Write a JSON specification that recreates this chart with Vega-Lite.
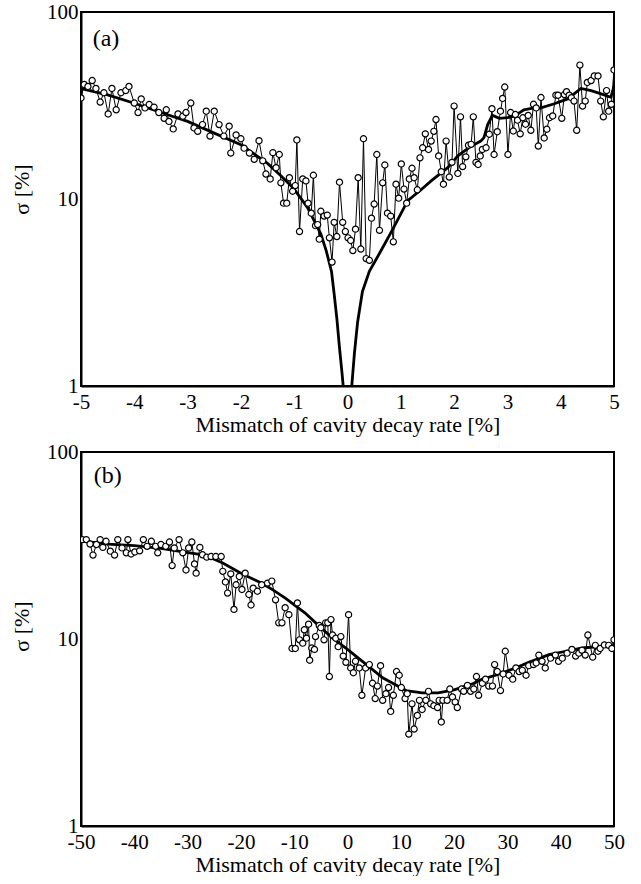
{
  "$schema": "https://vega.github.io/schema/vega-lite/v6.json",
  "background": "white",
  "padding": {"left": 9, "top": 0, "right": 10, "bottom": 0},
  "spacing": 4,
  "config": {
    "view": {"stroke": "black", "strokeWidth": 2},
    "font": "Liberation Serif",
    "axis": {
      "grid": false, "ticks": false, "domainColor": "black", "domainWidth": 2,
      "labelColor": "black", "titleColor": "black",
      "labelFont": "Liberation Serif", "titleFont": "Liberation Serif",
      "labelFontSize": 21, "titleFontSize": 22, "titleFontWeight": "normal",
      "labelOverlap": false, "labelFlush": false
    }
  },
  "datasets": {
    "a_pts": [
      {"x":-5.00,"s":34.7},{"x":-4.94,"s":41},{"x":-4.87,"s":40},{"x":-4.79,"s":43},{"x":-4.72,"s":39},{"x":-4.64,"s":33},{"x":-4.57,"s":37},{"x":-4.49,"s":28.5},{"x":-4.42,"s":39},{"x":-4.34,"s":30},{"x":-4.25,"s":37},{"x":-4.16,"s":38},{"x":-4.10,"s":40},{"x":-4.00,"s":32.6},{"x":-3.93,"s":29},{"x":-3.87,"s":34.3},{"x":-3.80,"s":30.7},{"x":-3.72,"s":32},{"x":-3.63,"s":31},{"x":-3.54,"s":29},{"x":-3.44,"s":27},{"x":-3.40,"s":30},{"x":-3.35,"s":26},{"x":-3.27,"s":23.7},{"x":-3.18,"s":28.5},{"x":-3.09,"s":27.7},{"x":-3.03,"s":29},{"x":-2.94,"s":32.6},{"x":-2.88,"s":24},{"x":-2.81,"s":23},{"x":-2.72,"s":25},{"x":-2.65,"s":29.5},{"x":-2.58,"s":21.7},{"x":-2.50,"s":29.5},{"x":-2.41,"s":25},{"x":-2.32,"s":21.7},{"x":-2.22,"s":24.5},{"x":-2.19,"s":17.6},{"x":-2.09,"s":22},{"x":-2.00,"s":21},{"x":-1.94,"s":18.7},{"x":-1.84,"s":17.6},{"x":-1.75,"s":16.3},{"x":-1.66,"s":20.5},{"x":-1.59,"s":16},{"x":-1.53,"s":13.6},{"x":-1.45,"s":12.8},{"x":-1.40,"s":17.7},{"x":-1.34,"s":14.7},{"x":-1.28,"s":17.3},{"x":-1.25,"s":12.2},{"x":-1.20,"s":9.5},{"x":-1.14,"s":9.5},{"x":-1.09,"s":13},{"x":-1.03,"s":11},{"x":-0.98,"s":11.8},{"x":-0.95,"s":20.7},{"x":-0.90,"s":6.7},{"x":-0.84,"s":12.8},{"x":-0.78,"s":12.5},{"x":-0.74,"s":9.5},{"x":-0.68,"s":8.4},{"x":-0.64,"s":13.4},{"x":-0.60,"s":7.2},{"x":-0.56,"s":7.3},{"x":-0.53,"s":6.1},{"x":-0.50,"s":8.6},{"x":-0.44,"s":8.1},{"x":-0.38,"s":8.2},{"x":-0.34,"s":6.2},{"x":-0.29,"s":4.6},{"x":-0.25,"s":7.5},{"x":-0.20,"s":6.3},{"x":-0.15,"s":12.3},{"x":-0.09,"s":7.5},{"x":-0.04,"s":6.7},{"x":0.01,"s":6.2},{"x":0.06,"s":6.0},{"x":0.10,"s":5.3},{"x":0.15,"s":6.9},{"x":0.20,"s":13},{"x":0.25,"s":5.4},{"x":0.30,"s":21},{"x":0.35,"s":4.8},{"x":0.41,"s":4.7},{"x":0.45,"s":7.9},{"x":0.50,"s":9.4},{"x":0.55,"s":17.3},{"x":0.60,"s":6.8},{"x":0.66,"s":12.2},{"x":0.70,"s":15.2},{"x":0.75,"s":8.4},{"x":0.81,"s":8.1},{"x":0.86,"s":5.9},{"x":0.91,"s":12},{"x":0.96,"s":10.1},{"x":1.01,"s":15.4},{"x":1.06,"s":11.3},{"x":1.11,"s":9.5},{"x":1.16,"s":12.8},{"x":1.21,"s":14.6},{"x":1.25,"s":13},{"x":1.31,"s":11.2},{"x":1.36,"s":16.6},{"x":1.41,"s":18.8},{"x":1.46,"s":22.3},{"x":1.52,"s":18.4},{"x":1.57,"s":20.4},{"x":1.62,"s":23},{"x":1.66,"s":26.6},{"x":1.71,"s":17},{"x":1.76,"s":14},{"x":1.80,"s":12},{"x":1.85,"s":20.4},{"x":1.91,"s":13.1},{"x":1.96,"s":15.7},{"x":2.00,"s":31.4},{"x":2.07,"s":13.7},{"x":2.12,"s":27.5},{"x":2.16,"s":14.9},{"x":2.22,"s":16.8},{"x":2.27,"s":19.4},{"x":2.32,"s":19.6},{"x":2.36,"s":27.5},{"x":2.41,"s":15.7},{"x":2.45,"s":15.3},{"x":2.49,"s":17},{"x":2.53,"s":18.4},{"x":2.60,"s":18.8},{"x":2.66,"s":22.2},{"x":2.71,"s":30.4},{"x":2.75,"s":17.3},{"x":2.81,"s":22.9},{"x":2.87,"s":29.5},{"x":2.91,"s":34.5},{"x":2.95,"s":39.7},{"x":3.01,"s":17.3},{"x":3.06,"s":29},{"x":3.11,"s":23.1},{"x":3.15,"s":28.3},{"x":3.19,"s":26.4},{"x":3.24,"s":22.3},{"x":3.29,"s":27.2},{"x":3.34,"s":25.1},{"x":3.39,"s":28},{"x":3.44,"s":23.3},{"x":3.49,"s":32.1},{"x":3.54,"s":30.7},{"x":3.58,"s":19.2},{"x":3.63,"s":34.9},{"x":3.69,"s":21.2},{"x":3.74,"s":23.6},{"x":3.79,"s":27.2},{"x":3.85,"s":27.8},{"x":3.91,"s":35.9},{"x":3.95,"s":35.9},{"x":4.02,"s":27.0},{"x":4.07,"s":36.2},{"x":4.11,"s":37.5},{"x":4.16,"s":35.9},{"x":4.20,"s":34.8},{"x":4.25,"s":33.4},{"x":4.30,"s":23.3},{"x":4.36,"s":52},{"x":4.41,"s":31.4},{"x":4.46,"s":33.4},{"x":4.50,"s":42},{"x":4.57,"s":43},{"x":4.63,"s":45.5},{"x":4.70,"s":45.5},{"x":4.75,"s":33.4},{"x":4.80,"s":27.5},{"x":4.86,"s":38},{"x":4.90,"s":29.5},{"x":4.95,"s":32.1},{"x":5.00,"s":49}
    ],
    "a_fit": [
      {"b":"L","x":-5,"s":39},{"b":"L","x":-4.5,"s":36},{"b":"L","x":-4,"s":32.5},{"b":"L","x":-3.5,"s":29},{"b":"L","x":-3,"s":26},{"b":"L","x":-2.5,"s":22.5},{"b":"L","x":-2,"s":19.5},{"b":"L","x":-1.5,"s":15.5},{"b":"L","x":-1.25,"s":13.3},{"b":"L","x":-1,"s":11.3},{"b":"L","x":-0.75,"s":9},{"b":"L","x":-0.5,"s":6.5},{"b":"L","x":-0.4,"s":5.3},{"b":"L","x":-0.3,"s":4.1},{"b":"L","x":-0.25,"s":3.1},{"b":"L","x":-0.2,"s":2.3},{"b":"L","x":-0.15,"s":1.6},{"b":"L","x":-0.1,"s":1.15},{"b":"L","x":-0.05,"s":0.8},
      {"b":"R","x":0.05,"s":0.8},{"b":"R","x":0.08,"s":1.0},{"b":"R","x":0.13,"s":1.5},{"b":"R","x":0.19,"s":2.2},{"b":"R","x":0.28,"s":3.2},{"b":"R","x":0.41,"s":4.1},{"b":"R","x":0.63,"s":5.3},{"b":"R","x":0.85,"s":6.9},{"b":"R","x":1.13,"s":9.8},{"b":"R","x":1.38,"s":11.2},{"b":"R","x":1.57,"s":12.5},{"b":"R","x":1.88,"s":14.7},{"b":"R","x":2.07,"s":17.0},{"b":"R","x":2.3,"s":19},{"b":"R","x":2.5,"s":20.4},{"b":"R","x":2.56,"s":21.3},{"b":"R","x":2.63,"s":25},{"b":"R","x":2.72,"s":28},{"b":"R","x":2.85,"s":27},{"b":"R","x":3.0,"s":27.2},{"b":"R","x":3.13,"s":27.7},{"b":"R","x":3.31,"s":30},{"b":"R","x":3.45,"s":30.5},{"b":"R","x":3.63,"s":30.7},{"b":"R","x":3.88,"s":32.3},{"b":"R","x":4.13,"s":34.3},{"b":"R","x":4.38,"s":39},{"b":"R","x":4.57,"s":38},{"b":"R","x":4.76,"s":36.5},{"b":"R","x":4.94,"s":35},{"b":"R","x":5.0,"s":40}
    ],
    "b_pts": [
      {"x":-49.75,"s":34.0},{"x":-49.0,"s":34},{"x":-48.3,"s":32.2},{"x":-47.75,"s":28.1},{"x":-47.1,"s":32},{"x":-46.4,"s":34},{"x":-45.9,"s":30.9},{"x":-45.3,"s":33.3},{"x":-44.5,"s":29.5},{"x":-43.7,"s":28.1},{"x":-43.1,"s":34},{"x":-42.3,"s":30.7},{"x":-41.5,"s":28.9},{"x":-41.2,"s":34},{"x":-40.6,"s":28.5},{"x":-39.9,"s":29.2},{"x":-39.0,"s":29.6},{"x":-38.3,"s":34},{"x":-37.6,"s":31.3},{"x":-36.8,"s":33.3},{"x":-36.0,"s":31.3},{"x":-35.6,"s":28.9},{"x":-35.0,"s":32},{"x":-34.1,"s":31.3},{"x":-33.4,"s":33},{"x":-32.9,"s":24.7},{"x":-32.5,"s":30.7},{"x":-31.6,"s":34},{"x":-30.9,"s":28.9},{"x":-30.3,"s":23.4},{"x":-29.8,"s":30.7},{"x":-29.2,"s":33},{"x":-28.7,"s":25.2},{"x":-28.4,"s":22.5},{"x":-27.7,"s":30.9},{"x":-27.2,"s":28.2},{"x":-26.4,"s":27.4},{"x":-25.6,"s":27.6},{"x":-24.7,"s":27.6},{"x":-23.7,"s":27.6},{"x":-23.4,"s":23},{"x":-22.9,"s":20.2},{"x":-22.5,"s":17.6},{"x":-21.9,"s":22.3},{"x":-21.3,"s":14.4},{"x":-20.9,"s":19.5},{"x":-20.3,"s":21.6},{"x":-19.8,"s":18.4},{"x":-19.2,"s":22.5},{"x":-18.5,"s":17.3},{"x":-18.1,"s":15.2},{"x":-17.7,"s":18.7},{"x":-16.9,"s":18},{"x":-16.1,"s":19.5},{"x":-15.0,"s":19.9},{"x":-14.2,"s":20.4},{"x":-13.5,"s":16.2},{"x":-12.9,"s":12.2},{"x":-12.3,"s":12.2},{"x":-11.7,"s":14.7},{"x":-11.0,"s":13.5},{"x":-10.4,"s":8.9},{"x":-9.8,"s":8.9},{"x":-9.4,"s":15.6},{"x":-9.0,"s":9.9},{"x":-8.4,"s":9.5},{"x":-8.1,"s":11.2},{"x":-7.7,"s":10.1},{"x":-7.3,"s":12},{"x":-7.1,"s":7.7},{"x":-6.7,"s":8.95},{"x":-6.2,"s":8.8},{"x":-6.0,"s":10.3},{"x":-5.3,"s":11.8},{"x":-5.0,"s":11.5},{"x":-4.4,"s":9.9},{"x":-4.1,"s":12.2},{"x":-3.7,"s":12.2},{"x":-3.4,"s":6.3},{"x":-3.1,"s":12.7},{"x":-2.8,"s":10.5},{"x":-2.2,"s":10.1},{"x":-1.75,"s":9.1},{"x":-1.25,"s":10.3},{"x":-0.8,"s":8.1},{"x":-0.3,"s":7.5},{"x":0.2,"s":13.5},{"x":0.6,"s":7.0},{"x":1.1,"s":6.6},{"x":1.5,"s":7.6},{"x":2.2,"s":7.0},{"x":2.7,"s":5.0},{"x":3.4,"s":7.0},{"x":4.1,"s":7.3},{"x":4.7,"s":5.8},{"x":5.2,"s":4.8},{"x":5.6,"s":5.6},{"x":6.2,"s":7.2},{"x":6.6,"s":4.7},{"x":7.2,"s":5.1},{"x":7.7,"s":5.5},{"x":8.1,"s":4.1},{"x":8.6,"s":5.0},{"x":9.2,"s":6.7},{"x":9.7,"s":6.4},{"x":10.1,"s":5.5},{"x":10.8,"s":4.8},{"x":11.2,"s":5.1},{"x":11.5,"s":3.1},{"x":12.1,"s":4.5},{"x":12.5,"s":3.3},{"x":13.1,"s":3.9},{"x":13.5,"s":4.7},{"x":14.0,"s":4.2},{"x":14.7,"s":4.7},{"x":15.2,"s":5.25},{"x":15.6,"s":4.5},{"x":16.2,"s":4.4},{"x":16.9,"s":4.3},{"x":17.2,"s":4.7},{"x":17.6,"s":3.6},{"x":17.9,"s":4.7},{"x":18.7,"s":4.7},{"x":19.2,"s":5.4},{"x":19.7,"s":4.9},{"x":20.2,"s":4.6},{"x":20.6,"s":4.3},{"x":21.4,"s":5.4},{"x":21.8,"s":5.25},{"x":22.5,"s":5.65},{"x":23.1,"s":5.25},{"x":23.7,"s":5.4},{"x":24.2,"s":6.3},{"x":24.6,"s":5.0},{"x":25.3,"s":5.8},{"x":25.9,"s":6.1},{"x":26.5,"s":5.6},{"x":27.2,"s":5.6},{"x":27.6,"s":7.3},{"x":28.1,"s":6.7},{"x":28.7,"s":5.3},{"x":29.2,"s":6.5},{"x":29.6,"s":8.6},{"x":30.3,"s":6.4},{"x":31.0,"s":6.1},{"x":31.6,"s":7.0},{"x":32.2,"s":6.7},{"x":32.8,"s":6.8},{"x":33.5,"s":6.4},{"x":34.0,"s":7.2},{"x":34.9,"s":7.3},{"x":35.4,"s":7.45},{"x":35.9,"s":8.2},{"x":36.5,"s":7.6},{"x":37.1,"s":7.0},{"x":38.1,"s":7.9},{"x":39.0,"s":8.2},{"x":39.6,"s":7.6},{"x":40.3,"s":7.9},{"x":41.2,"s":8.4},{"x":42.1,"s":8.8},{"x":42.8,"s":8.1},{"x":43.4,"s":8.4},{"x":44.0,"s":8.7},{"x":44.6,"s":8.2},{"x":45.1,"s":10.5},{"x":46.0,"s":8.0},{"x":46.5,"s":9.25},{"x":47.0,"s":8.6},{"x":47.4,"s":8.9},{"x":48.2,"s":9.3},{"x":49.0,"s":9.25},{"x":49.6,"s":8.9},{"x":50.0,"s":9.9}
    ],
    "b_fit": [
      {"x":-50,"s":33.5},{"x":-45,"s":32.2},{"x":-40,"s":31.6},{"x":-35,"s":30.5},{"x":-30,"s":29},{"x":-27,"s":28.2},{"x":-23.4,"s":25.5},{"x":-20,"s":22.5},{"x":-16,"s":19.8},{"x":-14,"s":18.3},{"x":-11.6,"s":16.5},{"x":-8,"s":13.8},{"x":-5,"s":11.5},{"x":-2.8,"s":10.1},{"x":0,"s":8.8},{"x":2.8,"s":7.6},{"x":6.6,"s":6.2},{"x":9,"s":5.7},{"x":11,"s":5.3},{"x":14,"s":5.15},{"x":17,"s":5.15},{"x":20,"s":5.35},{"x":23.4,"s":5.75},{"x":25.3,"s":6.1},{"x":27.8,"s":6.4},{"x":31.5,"s":7.0},{"x":34,"s":7.5},{"x":37.8,"s":8.25},{"x":41,"s":8.6},{"x":44,"s":8.95},{"x":47,"s":9.1},{"x":50,"s":9.3}
    ],
    "a_xmaj": [{"x":-4},{"x":-3},{"x":-2},{"x":-1},{"x":0},{"x":1},{"x":2},{"x":3},{"x":4}],
    "a_xmin": [{"x":-4.8},{"x":-4.6},{"x":-4.4},{"x":-4.2},{"x":-3.8},{"x":-3.6},{"x":-3.4},{"x":-3.2},{"x":-2.8},{"x":-2.6},{"x":-2.4},{"x":-2.2},{"x":-1.8},{"x":-1.6},{"x":-1.4},{"x":-1.2},{"x":-0.8},{"x":-0.6},{"x":-0.4},{"x":-0.2},{"x":0.2},{"x":0.4},{"x":0.6},{"x":0.8},{"x":1.2},{"x":1.4},{"x":1.6},{"x":1.8},{"x":2.2},{"x":2.4},{"x":2.6},{"x":2.8},{"x":3.2},{"x":3.4},{"x":3.6},{"x":3.8},{"x":4.2},{"x":4.4},{"x":4.6},{"x":4.8}],
    "b_xmaj": [{"x":-40},{"x":-30},{"x":-20},{"x":-10},{"x":0},{"x":10},{"x":20},{"x":30},{"x":40}],
    "b_xmin": [{"x":-48},{"x":-46},{"x":-44},{"x":-42},{"x":-38},{"x":-36},{"x":-34},{"x":-32},{"x":-28},{"x":-26},{"x":-24},{"x":-22},{"x":-18},{"x":-16},{"x":-14},{"x":-12},{"x":-8},{"x":-6},{"x":-4},{"x":-2},{"x":2},{"x":4},{"x":6},{"x":8},{"x":12},{"x":14},{"x":16},{"x":18},{"x":22},{"x":24},{"x":26},{"x":28},{"x":32},{"x":34},{"x":36},{"x":38},{"x":42},{"x":44},{"x":46},{"x":48}],
    "ymaj": [{"s":10}],
    "ymin": [{"s":2},{"s":3},{"s":4},{"s":5},{"s":6},{"s":7},{"s":8},{"s":9},{"s":20},{"s":30},{"s":40},{"s":50},{"s":60},{"s":70},{"s":80},{"s":90}],
    "a_lab": [{"x":-4.78,"s":72,"t":"(a)"}],
    "b_lab": [{"x":-47.6,"s":74,"t":"(b)"}]
  },
  "vconcat": [
    {
      "width": 533, "height": 374,
      "encoding": {
        "x": {"field": "x", "type": "quantitative",
          "scale": {"domain": [-5, 5], "nice": false, "zero": false},
          "axis": {"title": "Mismatch of cavity decay rate [%]", "values": [-5,-4,-3,-2,-1,0,1,2,3,4,5],
            "labelExpr": "toString(datum.value)", "labelPadding": 5, "titlePadding": 2}
        },
        "y": {"field": "s", "type": "quantitative",
          "scale": {"type": "log", "domain": [1, 100], "nice": false},
          "axis": {"title": "σ [%]", "values": [1, 10, 100], "labelExpr": "toString(datum.value)",
            "labelPadding": 3, "titlePadding": 13, "titleY": 177}
        }
      },
      "layer": [
        {"data": {"name": "a_xmaj"}, "mark": {"type": "rule", "color": "black", "strokeWidth": 1.5}, "encoding": {"y": {"datum": 1}, "y2": {"datum": 1.09}}},
        {"data": {"name": "a_xmin"}, "mark": {"type": "rule", "color": "black", "strokeWidth": 1.5}, "encoding": {"y": {"datum": 1}, "y2": {"datum": 1.05}}},
        {"data": {"name": "ymaj"}, "mark": {"type": "rule", "color": "black", "strokeWidth": 1.5}, "encoding": {"x": {"datum": -5}, "x2": {"datum": -4.869}}},
        {"data": {"name": "ymin"}, "mark": {"type": "rule", "color": "black", "strokeWidth": 1.5}, "encoding": {"x": {"datum": -5}, "x2": {"datum": -4.925}}},
        {"data": {"name": "a_pts"}, "mark": {"type": "line", "color": "black", "strokeWidth": 1, "clip": true}},
        {"data": {"name": "a_fit"}, "mark": {"type": "line", "color": "black", "strokeWidth": 2.8, "clip": true}, "encoding": {"detail": {"field": "b"}}},
        {"data": {"name": "a_pts"}, "mark": {"type": "point", "shape": "circle", "filled": true, "fill": "white", "stroke": "black", "strokeWidth": 1.2, "size": 38, "opacity": 1, "clip": true}},
        {"data": {"name": "a_lab"}, "mark": {"type": "text", "font": "Liberation Serif", "fontSize": 24, "align": "left", "baseline": "middle", "color": "black"}, "encoding": {"text": {"field": "t"}}}
      ]
    },
    {
      "width": 533, "height": 374,
      "encoding": {
        "x": {"field": "x", "type": "quantitative",
          "scale": {"domain": [-50, 50], "nice": false, "zero": false},
          "axis": {"title": "Mismatch of cavity decay rate [%]", "values": [-50,-40,-30,-20,-10,0,10,20,30,40,50],
            "labelExpr": "toString(datum.value)", "labelPadding": 5, "titlePadding": 2}
        },
        "y": {"field": "s", "type": "quantitative",
          "scale": {"type": "log", "domain": [1, 100], "nice": false},
          "axis": {"title": "σ [%]", "values": [1, 10, 100], "labelExpr": "toString(datum.value)",
            "labelPadding": 3, "titlePadding": 13, "titleY": 174}
        }
      },
      "layer": [
        {"data": {"name": "b_xmaj"}, "mark": {"type": "rule", "color": "black", "strokeWidth": 1.5}, "encoding": {"y": {"datum": 1}, "y2": {"datum": 1.09}}},
        {"data": {"name": "b_xmin"}, "mark": {"type": "rule", "color": "black", "strokeWidth": 1.5}, "encoding": {"y": {"datum": 1}, "y2": {"datum": 1.05}}},
        {"data": {"name": "ymaj"}, "mark": {"type": "rule", "color": "black", "strokeWidth": 1.5}, "encoding": {"x": {"datum": -50}, "x2": {"datum": -48.69}}},
        {"data": {"name": "ymin"}, "mark": {"type": "rule", "color": "black", "strokeWidth": 1.5}, "encoding": {"x": {"datum": -50}, "x2": {"datum": -49.25}}},
        {"data": {"name": "b_pts"}, "mark": {"type": "line", "color": "black", "strokeWidth": 1, "clip": true}},
        {"data": {"name": "b_fit"}, "mark": {"type": "line", "color": "black", "strokeWidth": 2.8, "clip": true}},
        {"data": {"name": "b_pts"}, "mark": {"type": "point", "shape": "circle", "filled": true, "fill": "white", "stroke": "black", "strokeWidth": 1.2, "size": 38, "opacity": 1, "clip": true}},
        {"data": {"name": "b_lab"}, "mark": {"type": "text", "font": "Liberation Serif", "fontSize": 24, "align": "left", "baseline": "middle", "color": "black"}, "encoding": {"text": {"field": "t"}}}
      ]
    }
  ]
}
